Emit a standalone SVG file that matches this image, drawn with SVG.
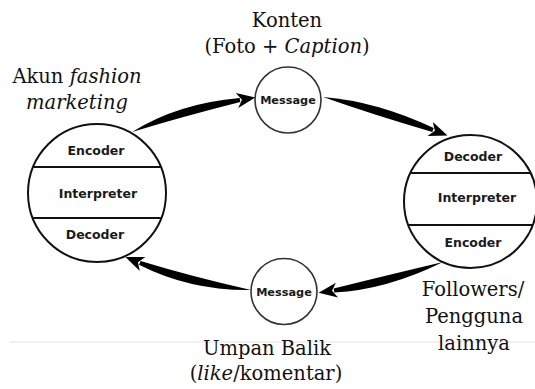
<svg xmlns="http://www.w3.org/2000/svg" width="535" height="389" viewBox="0 0 535 389">
<style>
.lbl{font-family:"DejaVu Serif","Liberation Serif",serif;font-size:19.5px;fill:#111;text-anchor:middle}
.it{font-style:italic}
.in{font-family:"DejaVu Sans","Liberation Sans",sans-serif;font-weight:bold;font-size:12.5px;fill:#1a1a1a;text-anchor:middle}
.msg{font-family:"DejaVu Sans","Liberation Sans",sans-serif;font-weight:bold;font-size:11.3px;fill:#1a1a1a;text-anchor:middle}
.big{fill:#fff;stroke:#111;stroke-width:2}
.small{fill:#fff;stroke:#333;stroke-width:1.6}
.div{stroke:#111;stroke-width:2}
.body{fill:#000}
</style>
<defs>
<path id="head" d="M15.5,0 L-3,-7.5 L2,0 L-3,7.5 Z" fill="#000"/>
</defs>
<rect width="535" height="389" fill="#fff"/>
<line x1="10" y1="342" x2="535" y2="342" stroke="#ececec" stroke-width="1.5"/>

<g id="connectors">
<path class="body" d="M132,132 Q178,103.3 239.7,98 L240.3,102 Q182,116.7 132,132 Z"/>
<use href="#head" transform="translate(240,100) rotate(-9.5)"/>
<path class="body" d="M323,97 Q377,101.3 433.7,128.1 L432.3,131.9 Q373,114.7 323,97 Z"/>
<use href="#head" transform="translate(433,130) rotate(20.8)"/>
<path class="body" d="M443,262 Q383.2,276.2 333.7,288.5 L334.3,292.5 Q386.8,289.8 443,262 Z"/>
<use href="#head" transform="translate(334,290.5) rotate(171.6)"/>
<path class="body" d="M251,290 Q193.7,277.2 140.55,261.05 L139.05,264.75 Q190.3,290.8 251,290 Z"/>
<use href="#head" transform="translate(139.8,262.9) rotate(202)"/>
</g>

<g id="sender">
<circle class="big" cx="97" cy="193" r="69"/>
<line class="div" x1="33.1" y1="167" x2="160.9" y2="167"/>
<line class="div" x1="32.7" y1="218" x2="161.3" y2="218"/>
<text class="in" x="96" y="154.5">Encoder</text>
<text class="in" x="98" y="197.5">Interpreter</text>
<text class="in" x="95" y="238.5">Decoder</text>
</g>

<g id="receiver">
<circle class="big" cx="470.5" cy="201.5" r="66.5"/>
<line class="div" x1="410.4" y1="173" x2="530.6" y2="173"/>
<line class="div" x1="408.3" y1="225" x2="532.7" y2="225"/>
<text class="in" x="473" y="160.5">Decoder</text>
<text class="in" x="477" y="201.5">Interpreter</text>
<text class="in" x="473" y="246.5">Encoder</text>
</g>

<g id="message-top">
<circle class="small" cx="288" cy="100" r="33"/>
<text class="msg" x="288" y="104">Message</text>
</g>

<g id="message-bottom">
<circle class="small" cx="284" cy="291.5" r="33"/>
<text class="msg" x="284" y="295.5">Message</text>
</g>

<g id="labels">
<text class="lbl" x="287" y="27">Konten</text>
<text class="lbl" x="287" y="53">(Foto + <tspan class="it">Caption</tspan>)</text>
<text class="lbl" x="77" y="83">Akun <tspan class="it">fashion</tspan></text>
<text class="lbl it" x="77" y="109">marketing</text>
<text class="lbl" x="473" y="296">Followers/</text>
<text class="lbl" x="474" y="323">Pengguna</text>
<text class="lbl" x="474" y="350">lainnya</text>
<text class="lbl" x="267" y="355">Umpan Balik</text>
<text class="lbl" x="266" y="380">(<tspan class="it">like</tspan>/komentar)</text>
</g>
</svg>
